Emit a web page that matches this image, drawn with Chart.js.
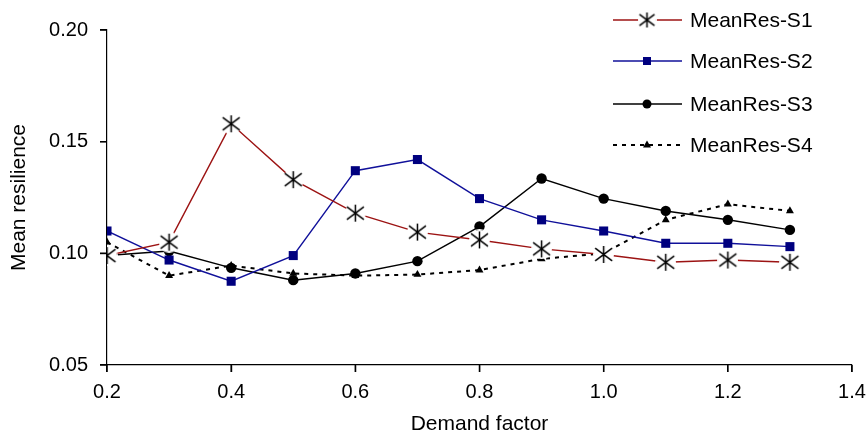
<!DOCTYPE html>
<html>
<head>
<meta charset="utf-8">
<script src="https://cdn.jsdelivr.net/npm/chart.js@4.4.0/dist/chart.umd.min.js"></script>
<style>
html, body { margin: 0; padding: 0; background: #fff; }
#wrap { width: 867px; height: 437px; position: relative; }
</style>
</head>
<body>
<div id="wrap"><canvas id="resChart"></canvas></div>
<script>
// data
const demandFactor = [0.2, 0.3, 0.4, 0.5, 0.6, 0.7, 0.8, 0.9, 1.0, 1.1, 1.2, 1.3];
const meanResS1 = [0.099, 0.105, 0.158, 0.133, 0.118, 0.1095, 0.106, 0.102, 0.0995, 0.096, 0.097, 0.096];
const meanResS2 = [0.110, 0.097, 0.0875, 0.099, 0.137, 0.142, 0.1245, 0.115, 0.110, 0.1045, 0.1045, 0.103];
const meanResS3 = [0.099, 0.101, 0.0935, 0.088, 0.091, 0.0965, 0.112, 0.1335, 0.1245, 0.119, 0.115, 0.1105];
const meanResS4 = [0.105, 0.090, 0.0945, 0.091, 0.090, 0.0905, 0.0925, 0.0975, 0.100, 0.115, 0.122, 0.119];
const seriesNames = ['MeanRes-S1', 'MeanRes-S2', 'MeanRes-S3', 'MeanRes-S4'];
const xTicks = [0.2, 0.4, 0.6, 0.8, 1.0, 1.2, 1.4];
const yTicks = [0.05, 0.10, 0.15, 0.20];

const FONT = '"Liberation Sans", Arial, sans-serif';

function makeAsterisk(size) {
    const c = document.createElement('canvas');
    c.width = size; c.height = size;
    const g = c.getContext('2d');
    const m = size / 2;
    g.fillStyle = '#fff';
    g.beginPath(); g.arc(m, m, m, 0, Math.PI * 2); g.fill();
    g.strokeStyle = '#000';
    g.lineWidth = 1.5;
    const a = m - 2;
    g.beginPath();
    g.moveTo(m, m - a); g.lineTo(m, m + a);
    g.moveTo(m - a, m - a * 0.75); g.lineTo(m + a, m + a * 0.75);
    g.moveTo(m + a, m - a * 0.75); g.lineTo(m - a, m + a * 0.75);
    g.stroke();
    return c;
}
const asterisk = makeAsterisk(21);
const asteriskSmall = makeAsterisk(19);

function pts(ys) {
    return demandFactor.map((x, i) => ({ x: x, y: ys[i] }));
}

// outside tick marks on both axes
const tickMarks = {
    id: 'tickMarks',
    afterDraw(chart) {
        const ctx = chart.ctx;
        const xs = chart.scales.x, ys = chart.scales.y;
        const area = chart.chartArea;
        ctx.save();
        ctx.strokeStyle = '#000';
        ctx.lineWidth = 1.5;
        ctx.beginPath();
        xTicks.forEach(v => {
            const px = xs.getPixelForValue(v);
            ctx.moveTo(px, area.bottom); ctx.lineTo(px, area.bottom + 7);
        });
        yTicks.forEach(v => {
            const py = ys.getPixelForValue(v);
            ctx.moveTo(area.left - 7, py); ctx.lineTo(area.left, py);
        });
        ctx.stroke();
        ctx.restore();
    }
};

// legend drawn by hand, rows on the right like the original
const legendPlugin = {
    id: 'sideLegend',
    afterDraw(chart) {
        const ctx = chart.ctx;
        const rowsY = [20, 61, 104, 145];
        const x0 = 613, x1 = 682, mx = 647;
        chart.data.datasets.forEach((ds, i) => {
            const y = rowsY[i];
            ctx.save();
            ctx.strokeStyle = ds.borderColor;
            ctx.lineWidth = ds.borderWidth;
            ctx.setLineDash(ds.borderDash || []);
            ctx.beginPath();
            ctx.moveTo(x0, y); ctx.lineTo(x1, y);
            ctx.stroke();
            ctx.setLineDash([]);
            ctx.fillStyle = ds.pointBackgroundColor;
            if (i === 0) {
                ctx.drawImage(asteriskSmall, mx - 9.5, y - 9.5);
            } else if (i === 1) {
                ctx.fillRect(mx - 4, y - 4, 8, 8);
            } else if (i === 2) {
                ctx.beginPath(); ctx.arc(mx, y, 4.5, 0, Math.PI * 2); ctx.fill();
            } else {
                ctx.beginPath();
                ctx.moveTo(mx, y - 4.5); ctx.lineTo(mx + 4, y + 2.5); ctx.lineTo(mx - 4, y + 2.5);
                ctx.closePath(); ctx.fill();
            }
            ctx.fillStyle = '#000';
            ctx.font = '21px ' + FONT;
            ctx.textBaseline = 'middle';
            ctx.textAlign = 'left';
            ctx.fillText(ds.label, 690, y + 1);
            ctx.restore();
        });
    }
};

const ctx = document.getElementById('resChart');

new Chart(ctx, {
    type: 'line',
    data: {
        datasets: [{
            label: seriesNames[0],
            data: pts(meanResS1),
            borderColor: '#9c1313',
            borderWidth: 1.4,
            pointStyle: asterisk,
            pointBackgroundColor: '#000',
            tension: 0,
        }, {
            label: seriesNames[1],
            data: pts(meanResS2),
            borderColor: '#10109a',
            borderWidth: 1.4,
            pointStyle: 'rect',
            pointRadius: 6.4,
            pointBackgroundColor: '#00007f',
            pointBorderColor: '#00007f',
            pointBorderWidth: 0,
            tension: 0,
        }, {
            label: seriesNames[2],
            data: pts(meanResS3),
            borderColor: '#000',
            borderWidth: 1.5,
            pointStyle: 'circle',
            pointRadius: 5.2,
            pointBackgroundColor: '#000',
            pointBorderColor: '#000',
            pointBorderWidth: 0,
            tension: 0,
        }, {
            label: seriesNames[3],
            data: pts(meanResS4),
            borderColor: '#000',
            borderWidth: 2,
            borderDash: [4, 5],
            pointStyle: 'triangle',
            pointRadius: 4.6,
            pointBackgroundColor: '#000',
            pointBorderColor: '#000',
            pointBorderWidth: 0,
            tension: 0,
        }]
    },
    options: {
        responsive: true,
        maintainAspectRatio: false,
        animation: false,
        layout: { padding: { top: 30, right: 15, left: 0, bottom: 0 } },
        plugins: {
            legend: { display: false },
            tooltip: { enabled: false },
        },
        scales: {
            x: {
                type: 'linear',
                min: 0.2,
                max: 1.4,
                afterBuildTicks: (s) => { s.ticks = xTicks.map(v => ({ value: v })); },
                afterFit: (s) => { s.height = 72; s.paddingLeft = 0; s.paddingRight = 0; },
                ticks: {
                    color: '#000',
                    font: { family: FONT, size: 20 },
                    padding: 8,
                    maxRotation: 0,
                    callback: (v) => Number(v).toFixed(1),
                },
                grid: { drawOnChartArea: false, drawTicks: true, tickLength: 7, color: '#000', lineWidth: 1.2 },
                border: { color: '#000', width: 1.2 },
                title: {
                    display: true,
                    text: 'Demand factor',
                    color: '#000',
                    font: { family: FONT, size: 21 },
                    padding: { top: 0, bottom: 0 },
                },
            },
            y: {
                min: 0.05,
                max: 0.20,
                afterBuildTicks: (s) => { s.ticks = yTicks.map(v => ({ value: v })); },
                afterFit: (s) => { s.width = 107; s.paddingTop = 0; s.paddingBottom = 0; },
                ticks: {
                    color: '#000',
                    font: { family: FONT, size: 20 },
                    padding: 12,
                    callback: (v) => Number(v).toFixed(2),
                },
                grid: { drawOnChartArea: false, drawTicks: true, tickLength: 7, color: '#000', lineWidth: 1.2 },
                border: { color: '#000', width: 1.2 },
                title: {
                    display: true,
                    text: 'Mean resilience',
                    color: '#000',
                    font: { family: FONT, size: 21 },
                    padding: { top: 7, bottom: 0 },
                },
            },
        },
    },
    plugins: [tickMarks, legendPlugin],
});
</script>
</body>
</html>
